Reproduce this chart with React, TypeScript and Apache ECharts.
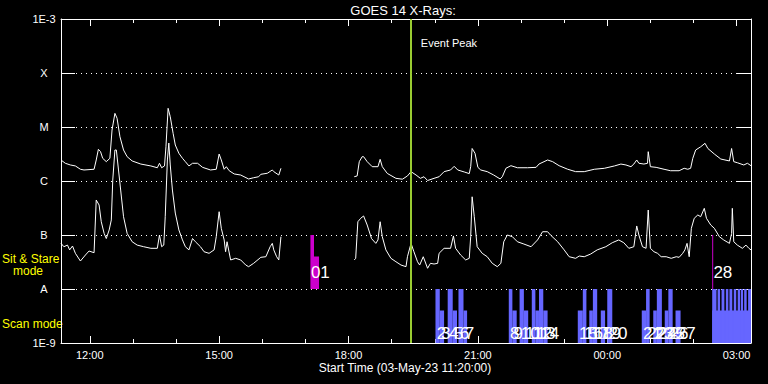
import React, { useEffect, useRef } from "react";
import * as echarts from "echarts";

// Time values are minutes elapsed since the start time 03-May-23 11:20:00
const START_CLOCK_MIN = 11 * 60 + 20;
const SPAN_MIN = 960;

// GOES 14 long channel (1-8 A), flux in W/m^2
const longSeg1: [number, number][] = [
  [0, 2.45e-6], [6, 2.13e-6], [13, 1.98e-6], [20, 1.9e-6], [27, 1.65e-6], [32, 1.6e-6], [46, 1.65e-6],
  [49, 2.45e-6], [52, 3.86e-6], [55, 3.49e-6], [58, 2.63e-6], [63, 2.28e-6], [68, 2.63e-6], [71, 8.8e-6],
  [75, 1.79e-5], [78, 1.45e-5], [82, 6.6e-6], [87, 3.75e-6], [92, 2.82e-6], [99, 2.35e-6], [111, 2.06e-6],
  [125, 1.9e-6], [134, 1.76e-6], [137, 2.13e-6], [140, 1.76e-6], [144, 1.9e-6], [146, 4.3e-6], [149, 2.22e-5],
  [152, 1.55e-5], [156, 7.6e-6], [159, 4.64e-6], [164, 3.26e-6], [169, 2.63e-6], [173, 2.28e-6], [178, 1.9e-6],
  [183, 2.13e-6], [190, 2.13e-6], [197, 1.79e-6], [208, 1.6e-6], [216, 1.65e-6], [220, 3.16e-6], [223, 2.45e-6],
  [227, 1.65e-6], [230, 1.84e-6], [234, 1.55e-6], [241, 1.35e-6], [250, 1.29e-6], [261, 1.09e-6], [268, 1.15e-6],
  [275, 1.2e-6], [278, 1.33e-6], [287, 1.39e-6], [294, 1.6e-6], [296, 1.49e-6], [303, 1.29e-6], [306, 1.72e-6],
];
const longSeg2: [number, number][] = [
  [408, 1.2e-6], [412, 1.24e-6], [415, 2.28e-6], [419, 2.82e-6], [421, 2.82e-6], [426, 2.28e-6], [433, 1.84e-6],
  [441, 1.84e-6], [444, 2.52e-6], [447, 1.84e-6], [454, 1.38e-6], [466, 1.12e-6], [475, 1.08e-6], [482, 1.24e-6],
  [487, 1.49e-6], [494, 1.29e-6], [500, 1.12e-6], [505, 1.2e-6], [510, 1.02e-6], [519, 1.12e-6], [526, 1.2e-6],
  [533, 1.49e-6], [542, 1.6e-6], [547, 1.87e-6], [552, 1.6e-6], [561, 1.47e-6], [568, 1.37e-6], [570, 1.84e-6],
  [572, 4.0e-6], [576, 3.26e-6], [580, 1.79e-6], [584, 1.6e-6], [593, 1.49e-6], [602, 1.29e-6], [611, 1.09e-6],
  [614, 1.2e-6], [619, 1.72e-6], [626, 1.92e-6], [635, 1.76e-6], [649, 1.76e-6], [661, 1.79e-6], [665, 2.06e-6],
  [677, 2.45e-6], [684, 2.28e-6], [693, 1.92e-6], [705, 1.65e-6], [716, 1.49e-6], [728, 1.49e-6], [742, 1.65e-6],
  [756, 1.72e-6], [770, 1.9e-6], [779, 2.06e-6], [786, 1.98e-6], [793, 1.84e-6], [797, 2.06e-6], [801, 2.45e-6],
  [804, 2.13e-6], [811, 2.06e-6], [816, 2.13e-6], [817, 3.49e-6], [820, 1.84e-6], [828, 1.79e-6], [839, 1.65e-6],
  [848, 1.55e-6], [860, 1.55e-6], [867, 1.72e-6], [872, 1.65e-6], [876, 1.72e-6], [879, 2.63e-6], [883, 3.75e-6],
  [890, 4.3e-6], [896, 4.99e-6], [900, 4.0e-6], [909, 3.16e-6], [918, 2.55e-6], [930, 2.35e-6], [933, 4.0e-6],
  [936, 2.28e-6], [941, 2.18e-6], [950, 1.98e-6], [955, 2.13e-6], [960, 1.92e-6],
];

// GOES 14 short channel (0.5-4 A), flux in W/m^2
const shortSeg1: [number, number][] = [
  [0, 7.0e-8], [4, 6.07e-8], [9, 6.5e-8], [12, 5.3e-8], [16, 6.25e-8], [20, 4.58e-8], [27, 3.3e-8], [34, 4.26e-8],
  [39, 5.05e-8], [46, 4.7e-8], [49, 4.45e-7], [53, 3.59e-7], [56, 1.76e-7], [60, 1.07e-7], [63, 8.6e-8],
  [67, 1.24e-7], [70, 1.9e-7], [72, 1.04e-6], [75, 3.75e-6], [77, 3.75e-6], [80, 1.6e-6], [83, 6.8e-7],
  [87, 2.18e-7], [92, 1.07e-7], [99, 7.5e-8], [106, 6.5e-8], [115, 6.07e-8], [125, 5.67e-8], [134, 5.67e-8],
  [137, 1.0e-7], [140, 6.07e-8], [143, 6.5e-8], [145, 2.18e-7], [148, 2.45e-6], [150, 5.05e-6], [152, 1.98e-6],
  [155, 6.8e-7], [159, 2.55e-7], [164, 1.24e-7], [169, 8.1e-8], [173, 6.07e-8], [178, 5.3e-8], [183, 8.6e-8],
  [187, 7.5e-8], [194, 6.07e-8], [199, 4.9e-8], [206, 4.58e-8], [213, 5.3e-8], [216, 9.3e-8], [220, 2.7e-7],
  [223, 1.33e-7], [227, 8.1e-8], [229, 4.9e-8], [231, 7.5e-8], [236, 3.45e-8], [243, 3.7e-8], [250, 3.45e-8],
  [257, 2.78e-8], [261, 2.59e-8], [268, 2.99e-8], [278, 3.86e-8], [285, 3.96e-8], [291, 6.07e-8], [294, 7.0e-8],
  [296, 5.3e-8], [300, 3.96e-8], [303, 3.45e-8], [306, 9.3e-8],
];
const shortSeg2: [number, number][] = [
  [408, 3.45e-8], [410, 3.7e-8], [413, 1.76e-7], [417, 2.04e-7], [421, 2.25e-7], [426, 1.53e-7], [432, 8.6e-8],
  [438, 7.0e-8], [441, 8.1e-8], [444, 1.76e-7], [447, 9.3e-8], [452, 5.3e-8], [459, 3.7e-8], [466, 3.2e-8],
  [473, 2.78e-8], [480, 2.59e-8], [482, 3.96e-8], [487, 7.0e-8], [491, 4.9e-8], [496, 3.2e-8], [499, 2.78e-8],
  [504, 3.96e-8], [510, 2.42e-8], [514, 2.99e-8], [519, 2.9e-8], [524, 2.99e-8], [526, 4.58e-8], [533, 5.67e-8],
  [542, 5.67e-8], [546, 9.6e-8], [549, 5.67e-8], [556, 4.26e-8], [563, 3.45e-8], [568, 3.7e-8], [570, 9.3e-8],
  [572, 5.1e-7], [575, 2.18e-7], [579, 6.07e-8], [586, 4.58e-8], [593, 3.96e-8], [600, 2.99e-8], [607, 2.59e-8],
  [612, 2.99e-8], [616, 7.5e-8], [621, 1.0e-7], [628, 9.3e-8], [635, 7.5e-8], [644, 6.8e-8], [654, 6.07e-8],
  [663, 8.1e-8], [670, 1.15e-7], [677, 1.15e-7], [681, 1.0e-7], [691, 7.5e-8], [700, 5.3e-8], [707, 3.96e-8],
  [716, 3.7e-8], [721, 4.08e-8], [728, 3.96e-8], [737, 4.45e-8], [746, 5.3e-8], [758, 6.07e-8], [767, 7.2e-8],
  [776, 8.1e-8], [783, 7.2e-8], [790, 5.67e-8], [797, 6.07e-8], [801, 1.47e-7], [804, 1.0e-7], [809, 6.07e-8],
  [814, 5.67e-8], [817, 2.9e-7], [820, 5.67e-8], [825, 4.9e-8], [830, 4.58e-8], [835, 3.96e-8], [842, 3.96e-8],
  [849, 3.7e-8], [856, 3.96e-8], [860, 3.86e-8], [865, 4.58e-8], [868, 5.3e-8], [871, 7.0e-8], [874, 3.96e-8],
  [877, 1.33e-7], [881, 2.04e-7], [886, 2.35e-7], [890, 2.18e-7], [895, 3.12e-7], [898, 2.04e-7], [904, 1.53e-7],
  [909, 1.33e-7], [916, 9.3e-8], [922, 8.1e-8], [930, 7.0e-8], [933, 1.07e-7], [934, 3.12e-7], [936, 7.5e-8],
  [941, 6.5e-8], [948, 5.67e-8], [953, 6.5e-8], [957, 5.67e-8], [960, 5.3e-8],
];

// Observation blocks: [start min, end min, top level]
const STARE_BASE = 1e-8;
const SCAN_BASE = 1e-9;
const stareBlocks: [number, number, number][] = [
  [347, 352, 1e-7], [352, 359, 4e-8], [906, 906.8, 1e-7],
];
const scanBlocks: [number, number, number][] = [
  [521, 527, 1e-8], [527, 533, 4e-9], [538, 545, 1e-8], [545, 551, 4e-9], [553, 560, 1e-8], [560, 565, 4e-9],
  [623, 628, 1e-8], [628, 634, 4e-9], [638, 644, 1e-8], [644, 650, 4e-9], [655, 660, 1e-8], [660, 665, 4e-9],
  [665, 671, 1e-8], [671, 677, 4e-9],
  [719, 726, 4e-9], [726, 731, 1e-8], [735, 740, 4e-9], [740, 746, 1e-8], [751, 757, 4e-9], [760, 767, 1e-8],
  [808, 814, 4e-9], [814, 819, 1e-8], [824, 829, 4e-9], [829, 836, 1e-8], [840, 845, 4e-9], [845, 851, 1e-8],
  [855, 862, 4e-9],
  [906, 960, 4e-9], [906, 912, 1e-8], [913.5, 917, 1e-8], [919, 923, 1e-8], [925, 928.5, 1e-8], [930, 934, 1e-8],
  [936, 939.5, 1e-8], [941.5, 945, 1e-8], [946, 949, 1e-8], [950.5, 954, 1e-8], [956, 960, 1e-8],
];
const stareLabels: [string, number][] = [["01", 347], ["28", 907]];
const scanLabels: [string, number][] = [
  ["2", 522], ["3", 528], ["4", 539], ["5", 546], ["6", 554], ["7", 561],
  ["8", 624], ["9", 629], ["10", 639], ["11", 645], ["12", 656], ["13", 661], ["14", 666],
  ["15", 720], ["16", 727], ["17", 736], ["18", 741], ["19", 752], ["20", 761],
  ["21", 809], ["22", 815], ["23", 825], ["24", 830], ["25", 841], ["26", 846], ["27", 856],
];
const STARE_LABEL_LEVEL = 1.98e-8;
const SCAN_LABEL_LEVEL = 1.53e-9;

const EVENT_PEAK_MIN = 486;
const EVENT_PEAK_LABEL_LEVEL = 3.6e-4;

const yTickLabels: Record<string, string> = {
  "-3": "1E-3", "-4": "X", "-5": "M", "-6": "C", "-7": "B", "-8": "A", "-9": "1E-9",
};

const FONT = "Liberation Sans";

const pad = (n: number) => (n < 10 ? "0" + n : String(n));
const fmtClock = (v: number) => {
  const m = (((START_CLOCK_MIN + Math.round(v)) % 1440) + 1440) % 1440;
  return pad(Math.floor(m / 60)) + ":" + pad(m % 60);
};

export default function App() {
  const ref = useRef<HTMLDivElement>(null);
  useEffect(() => {
    document.body.style.margin = "0";
    document.body.style.background = "#000";
    const chart = echarts.init(ref.current!, null, { renderer: "svg" });

    const hourly: number[] = [];
    for (let t = 40; t <= SPAN_MIN; t += 60) hourly.push(t);
    const major = hourly.filter((_, i) => i % 3 === 0);

    const toLine = (arr: [number, number][]) => arr.map(([t, f]) => [t, Math.log10(f)]);
    const blocks = (arr: [number, number, number][], base: number) =>
      arr.map(([s, e, top]) => [s, e, Math.log10(base), Math.log10(top)]);

    const blockRender = (color: string) => (params: any, api: any) => {
      const p0 = api.coord([api.value(0), api.value(2)]);
      const p1 = api.coord([api.value(1), api.value(3)]);
      return {
        type: "rect",
        shape: { x: p0[0], y: p1[1], width: Math.max(p1[0] - p0[0], 1), height: p0[1] - p1[1] },
        style: { fill: color },
      };
    };

    const white = "#ffffff";
    const xBase = (pos: string, ticks: number[], len: number, labels: boolean, line: boolean) => ({
      type: "value",
      min: 0,
      max: SPAN_MIN,
      position: pos,
      axisLine: { show: line, onZero: false, lineStyle: { color: white, width: 1 } },
      axisTick: { show: true, inside: true, length: len, customValues: ticks, lineStyle: { color: white } },
      axisLabel: labels
        ? { show: true, customValues: major, formatter: fmtClock, color: white, fontSize: 11, fontFamily: FONT, margin: 6 }
        : { show: false },
      splitLine: { show: false },
    });

    const lineSeries = (data: [number, number][], extra: any = {}) => ({
      type: "line",
      data: toLine(data),
      showSymbol: false,
      symbol: "none",
      lineStyle: { color: white, width: 1 },
      itemStyle: { color: white },
      z: 3,
      ...extra,
    });

    chart.setOption({
      animation: false,
      backgroundColor: "#000000",
      textStyle: { fontFamily: FONT },
      grid: { left: 61, right: 17, top: 19, bottom: 41, containLabel: false },
      xAxis: [
        xBase("bottom", major, 7, true, true),
        xBase("bottom", hourly, 4, false, false),
        xBase("top", major, 7, false, true),
        xBase("top", hourly, 4, false, false),
      ],
      yAxis: [
        {
          type: "value",
          min: -9,
          max: -3,
          interval: 1,
          position: "left",
          axisLine: { show: true, onZero: false, lineStyle: { color: white } },
          axisTick: { show: true, inside: true, length: 14, lineStyle: { color: white } },
          axisLabel: {
            formatter: (v: number) => yTickLabels[String(Math.round(v))] ?? "",
            color: white,
            fontSize: 11,
            fontFamily: FONT,
            align: "center",
            margin: 17,
          },
          splitLine: { show: true, lineStyle: { color: white, width: 1, type: [1, 4] } },
        },
        {
          type: "value",
          min: -9,
          max: -3,
          interval: 1,
          position: "right",
          axisLine: { show: true, onZero: false, lineStyle: { color: white } },
          axisTick: { show: true, inside: true, length: 14, lineStyle: { color: white } },
          axisLabel: { show: false },
          splitLine: { show: false },
        },
      ],
      series: [
        {
          type: "custom",
          renderItem: blockRender("#cc00cc"),
          data: blocks(stareBlocks, STARE_BASE),
          encode: { x: [0, 1], y: [2, 3] },
          z: 2,
        },
        {
          type: "custom",
          renderItem: blockRender("#6666ff"),
          data: blocks(scanBlocks, SCAN_BASE),
          encode: { x: [0, 1], y: [2, 3] },
          z: 2,
        },
        lineSeries(longSeg1, {
          markLine: {
            silent: true,
            symbol: ["none", "none"],
            label: { show: false },
            lineStyle: { color: "#9acd32", width: 2, type: "solid", opacity: 1 },
            data: [{ xAxis: EVENT_PEAK_MIN }],
            z: 5,
          },
        }),
        lineSeries(longSeg2),
        lineSeries(shortSeg1),
        lineSeries(shortSeg2),
        {
          type: "scatter",
          symbol: "circle",
          symbolSize: 1,
          itemStyle: { color: "transparent", opacity: 1 },
          z: 6,
          data: [
            ...stareLabels.map(([n, t]) => ({ name: n, value: [t, Math.log10(STARE_LABEL_LEVEL)] })),
            ...scanLabels.map(([n, t]) => ({ name: n, value: [t, Math.log10(SCAN_LABEL_LEVEL)] })),
          ],
          label: {
            show: true,
            formatter: "{b}",
            position: "right",
            distance: 0,
            color: white,
            opacity: 1,
            fontSize: 17,
            fontFamily: FONT,
          },
        },
        {
          type: "scatter",
          symbol: "circle",
          symbolSize: 1,
          itemStyle: { color: "transparent", opacity: 1 },
          z: 6,
          data: [{ name: "Event Peak", value: [EVENT_PEAK_MIN, Math.log10(EVENT_PEAK_LABEL_LEVEL)] }],
          label: {
            show: true,
            formatter: "{b}",
            position: "right",
            distance: 10,
            color: white,
            opacity: 1,
            fontSize: 11,
            fontFamily: FONT,
          },
        },
      ],
      graphic: [
        {
          type: "text",
          x: 403,
          y: 10,
          style: { text: "GOES 14 X-Rays:", fill: white, font: `13px "${FONT}"`, textAlign: "center", textVerticalAlign: "middle" },
        },
        {
          type: "text",
          x: 2,
          y: 258.5,
          style: { text: "Sit & Stare", fill: "#ffff00", font: `12px "${FONT}"`, textAlign: "left", textVerticalAlign: "middle" },
        },
        {
          type: "text",
          x: 13,
          y: 271,
          style: { text: "mode", fill: "#ffff00", font: `12px "${FONT}"`, textAlign: "left", textVerticalAlign: "middle" },
        },
        {
          type: "text",
          x: 2,
          y: 323.5,
          style: { text: "Scan mode", fill: "#ffff00", font: `12px "${FONT}"`, textAlign: "left", textVerticalAlign: "middle" },
        },
        {
          type: "text",
          x: 405,
          y: 368,
          style: {
            text: "Start Time (03-May-23 11:20:00)",
            fill: white,
            font: `12px "${FONT}"`,
            textAlign: "center",
            textVerticalAlign: "middle",
          },
        },
      ],
    });
    return () => chart.dispose();
  }, []);
  return <div ref={ref} style={{ position: "fixed", left: 0, top: 0, width: 768, height: 384, background: "#000" }} />;
}
